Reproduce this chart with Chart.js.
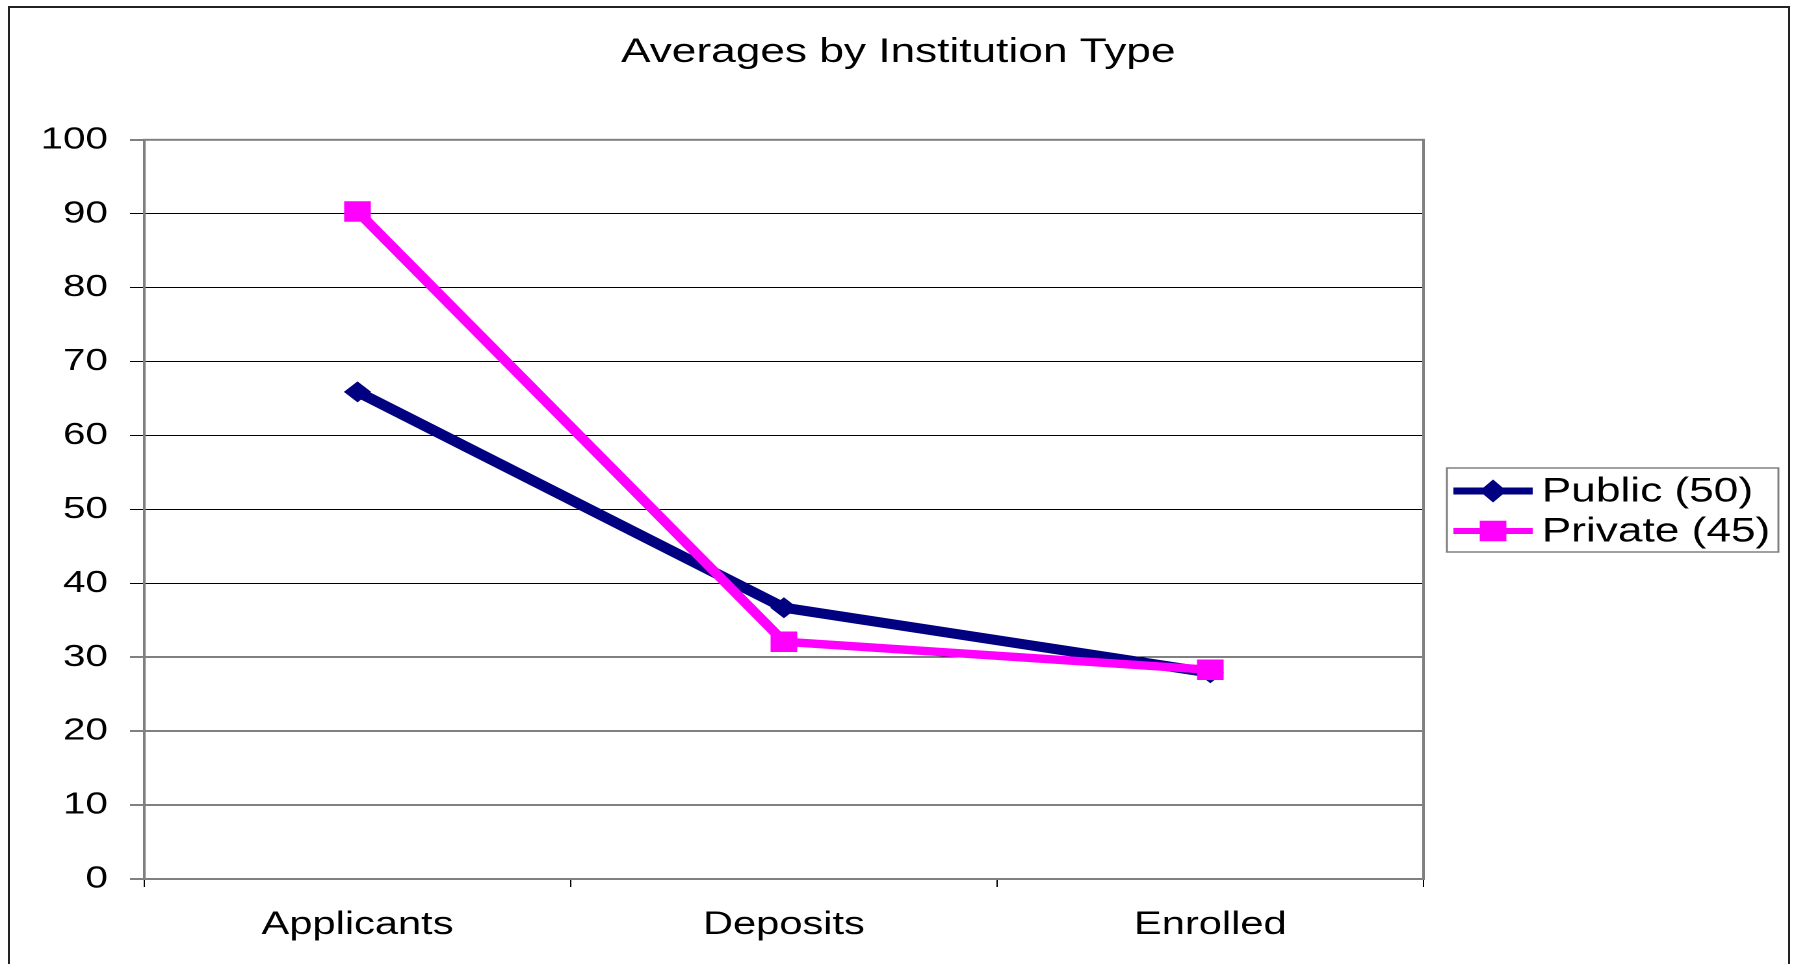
<!DOCTYPE html>
<html lang="en">
  <head>
    <meta charset="UTF-8" />
    <meta name="viewport" content="width=device-width, initial-scale=1.0" />
    <script src="https://cdn.jsdelivr.net/npm/chart.js"></script>
    <title>Averages by Institution Type</title>
    <style>
      body {
        margin: 0;
        background: #fff;
      }
      .page {
        position: relative;
        width: 1797px;
        height: 964px;
        overflow: hidden;
      }
      .frame {
        position: absolute;
        left: 8px;
        top: 6px;
        width: 1778px;
        height: 1000px;
        border: 2px solid #222;
      }
      /* the old chart is a stretched picture, so draw narrow and widen it */
      .stretch {
        position: absolute;
        left: 0;
        top: 0;
        width: 1382px;
        height: 964px;
        transform: scaleX(1.3);
        transform-origin: 0 0;
      }
    </style>
  </head>
  <body>
    <div class="page">
      <div class="frame"></div>
      <div class="stretch">
        <canvas id="chart"></canvas>
      </div>
    </div>
    <script>
      // data
      const categories = ["Applicants", "Deposits", "Enrolled"];
      const publicValues = [65.9, 36.7, 27.9];
      const privateValues = [90.3, 32.1, 28.3];
      const seriesNames = ["Public (50)", "Private (45)"];
      const yTicks = [0, 10, 20, 30, 40, 50, 60, 70, 80, 90, 100];

      const FONT = "'Liberation Sans', Arial, sans-serif";
      const NAVY = "#000080";
      const MAGENTA = "#FF00FF";

      // grey frame round the plot area
      const plotBorder = {
        id: "plotBorder",
        beforeDatasetsDraw(chart) {
          const { ctx, chartArea: a } = chart;
          ctx.save();
          ctx.strokeStyle = "#808080";
          ctx.lineWidth = 2;
          ctx.strokeRect(a.left, a.top, a.right - a.left, a.bottom - a.top);
          ctx.restore();
        },
      };

      // legend box with line + marker, like the old spreadsheet one
      const boxLegend = {
        id: "boxLegend",
        afterDraw(chart) {
          const { ctx } = chart;
          const box = { x: 1113, y: 468, w: 255, h: 84 };
          ctx.save();
          ctx.fillStyle = "#fff";
          ctx.fillRect(box.x, box.y, box.w, box.h);
          ctx.strokeStyle = "#808080";
          ctx.lineWidth = 1.5;
          ctx.strokeRect(box.x, box.y, box.w, box.h);

          chart.data.datasets.forEach((ds, i) => {
            const y = box.y + 23 + i * 40;
            const x0 = box.x + 5;
            const x1 = box.x + 66;
            const cx = (x0 + x1) / 2;
            ctx.strokeStyle = ds.borderColor;
            ctx.lineWidth = i === 0 ? 7 : 6;
            ctx.beginPath();
            ctx.moveTo(x0, y);
            ctx.lineTo(x1, y);
            ctx.stroke();

            ctx.fillStyle = ds.backgroundColor;
            ctx.beginPath();
            if (ds.pointStyle === "rectRot") {
              const r = ds.pointRadius;
              ctx.moveTo(cx - r, y);
              ctx.lineTo(cx, y - r - 1);
              ctx.lineTo(cx + r, y);
              ctx.lineTo(cx, y + r + 1);
              ctx.closePath();
            } else {
              const s = ds.pointRadius * Math.SQRT1_2;
              ctx.rect(cx - s, y - s, 2 * s, 2 * s);
            }
            ctx.fill();

            ctx.fillStyle = "#000";
            ctx.font = "34px " + FONT;
            ctx.textBaseline = "middle";
            ctx.textAlign = "left";
            ctx.fillText(ds.label, box.x + 73, y + 1);
          });
          ctx.restore();
        },
      };

      new Chart(document.getElementById("chart"), {
        type: "line",
        data: {
          labels: categories,
          datasets: [
            {
              label: seriesNames[0],
              data: publicValues,
              borderColor: NAVY,
              backgroundColor: NAVY,
              borderWidth: 10,
              pointStyle: "rectRot",
              pointRadius: 10.5,
              pointBorderWidth: 0,
              order: 1,
            },
            {
              label: seriesNames[1],
              data: privateValues,
              borderColor: MAGENTA,
              backgroundColor: MAGENTA,
              borderWidth: 8.5,
              pointStyle: "rect",
              pointRadius: 14.5,
              pointBorderWidth: 0,
              order: 0,
            },
          ],
        },
        options: {
          responsive: true,
          maintainAspectRatio: false,
          animation: false,
          devicePixelRatio: 2,
          elements: {
            line: { tension: 0, borderCapStyle: "butt", borderJoinStyle: "miter" },
          },
          plugins: {
            legend: { display: false },
            tooltip: { enabled: false },
            title: {
              display: true,
              text: "Averages by Institution Type",
              color: "#000",
              font: { family: FONT, size: 34, weight: "normal" },
              padding: { top: 32, bottom: 67 },
            },
          },
          scales: {
            x: {
              offset: true,
              afterFit(scale) {
                scale.height = 85;
              },
              grid: {
                offset: true,
                drawOnChartArea: false,
                drawTicks: true,
                tickLength: 8,
                tickColor: "#000",
                lineWidth: 1,
              },
              border: { display: true, color: "#808080", width: 2 },
              ticks: {
                color: "#000",
                padding: 19,
                font: { family: FONT, size: 32 },
              },
            },
            y: {
              min: 0,
              max: 100,
              afterFit(scale) {
                scale.width = 111;
              },
              afterBuildTicks(scale) {
                scale.ticks = yTicks.map((v) => ({ value: v }));
              },
              grid: {
                color: "#000",
                tickColor: "#000",
                lineWidth: 1,
                tickLength: 11,
              },
              border: { display: true, color: "#808080", width: 2 },
              ticks: {
                color: "#000",
                padding: 17,
                font: { family: FONT, size: 31 },
              },
            },
            // empty axis on the right that only keeps room for the legend box
            room: {
              type: "linear",
              position: "right",
              afterFit(scale) {
                scale.width = 287;
              },
              grid: { display: false },
              border: { display: false },
              ticks: { display: false },
            },
          },
        },
        plugins: [plotBorder, boxLegend],
      });
    </script>
  </body>
</html>
